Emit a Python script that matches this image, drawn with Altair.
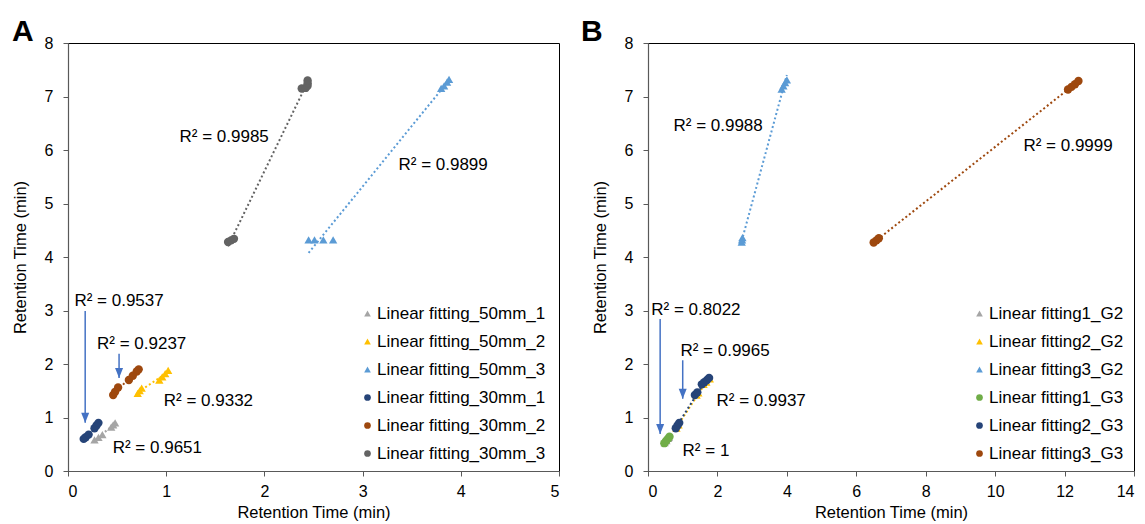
import altair as alt
import pandas as pd

FONT = "Liberation Sans"

# ---------------- Panel A data ----------------
A_SERIES = ["Linear fitting_50mm_1", "Linear fitting_50mm_2", "Linear fitting_50mm_3",
            "Linear fitting_30mm_1", "Linear fitting_30mm_2", "Linear fitting_30mm_3"]
A_COLORS = ["#A5A5A5", "#FFC000", "#5B9BD5", "#264478", "#9E480E", "#636363"]
A_SHAPES = ["triangle-up", "triangle-up", "triangle-up", "circle", "circle", "circle"]

a50_1_x = [0.27, 0.31, 0.35, 0.44, 0.46, 0.48]
a50_1_y = [0.58, 0.63, 0.68, 0.82, 0.86, 0.90]
a50_2_x = [0.71, 0.73, 0.75, 0.93, 0.96, 0.99, 1.02]
a50_2_y = [1.45, 1.50, 1.55, 1.70, 1.76, 1.82, 1.88]
a50_3_x = [2.45, 2.51, 2.60, 2.70, 3.80, 3.83, 3.86, 3.88]
a50_3_y = [4.32, 4.32, 4.32, 4.32, 7.15, 7.20, 7.27, 7.32]
a30_1_x = [0.16, 0.18, 0.21, 0.27, 0.29, 0.31]
a30_1_y = [0.60, 0.63, 0.68, 0.80, 0.85, 0.90]
a30_2_x = [0.46, 0.48, 0.51, 0.62, 0.66, 0.70, 0.72]
a30_2_y = [1.42, 1.48, 1.56, 1.70, 1.78, 1.86, 1.90]
a30_3_x = [1.63, 1.66, 1.69, 2.38, 2.42, 2.44, 2.44, 2.44]
a30_3_y = [4.28, 4.31, 4.34, 7.15, 7.16, 7.20, 7.25, 7.30]

A_LABELS = ["R² = 0.9985", "R² = 0.9899", "R² = 0.9537", "R² = 0.9237", "R² = 0.9332", "R² = 0.9651"]
A_LABEL_X = [1.59, 3.82, 0.52, 0.75, 1.43, 0.91]
A_LABEL_Y = [6.24, 5.72, 3.18, 2.37, 1.31, 0.43]

A_ARROW_X = [0.175, 0.52]
A_ARROW_Y0 = [2.99, 2.19]
A_ARROW_Y1 = [0.90, 1.74]

# ---------------- Panel B data ----------------
B_SERIES = ["Linear fitting1_G2", "Linear fitting2_G2", "Linear fitting3_G2",
            "Linear fitting1_G3", "Linear fitting2_G3", "Linear fitting3_G3"]
B_COLORS = ["#A5A5A5", "#FFC000", "#5B9BD5", "#70AD47", "#264478", "#9E480E"]
B_SHAPES = ["triangle-up", "triangle-up", "triangle-up", "circle", "circle", "circle"]

b1_g2_x = [0.48, 0.53, 0.58, 0.60]
b1_g2_y = [0.53, 0.57, 0.61, 0.63]
b2_g2_x = [0.82, 0.88, 1.40, 1.45, 1.60, 1.68, 1.78]
b2_g2_y = [0.80, 0.86, 1.42, 1.46, 1.62, 1.66, 1.72]
b3_g2_x = [2.70, 2.71, 2.72, 3.85, 3.90, 3.95, 4.00]
b3_g2_y = [4.28, 4.32, 4.36, 7.14, 7.20, 7.26, 7.31]
b1_g3_x = [0.47, 0.52, 0.57, 0.62]
b1_g3_y = [0.52, 0.56, 0.60, 0.64]
b2_g3_x = [0.80, 0.85, 0.90, 1.35, 1.42, 1.55, 1.62, 1.70, 1.76]
b2_g3_y = [0.80, 0.85, 0.90, 1.42, 1.47, 1.62, 1.66, 1.70, 1.74]
b3_g3_x = [6.50, 6.58, 6.65, 12.10, 12.20, 12.30, 12.40]
b3_g3_y = [4.27, 4.31, 4.35, 7.13, 7.18, 7.23, 7.29]

B_LABELS = ["R² = 0.9988", "R² = 0.9999", "R² = 0.8022", "R² = 0.9965", "R² = 0.9937", "R² = 1"]
B_LABEL_X = [2.02, 12.10, 1.38, 2.22, 3.26, 1.67]
B_LABEL_Y = [6.45, 6.07, 3.01, 2.24, 1.31, 0.37]

B_ARROW_X = [0.35, 1.00]
B_ARROW_Y0 = [2.84, 2.07]
B_ARROW_Y1 = [0.69, 1.35]

ARROW_COLOR = "#4472C4"
ARROW_SHAPE = "M0,0L-0.8,-2L0.8,-2Z"


def points_df(series, xs, ys):
    rows = []
    for s, xv, yv in zip(series, xs, ys):
        for a, b in zip(xv, yv):
            rows.append({"series": s, "x": a, "y": b})
    return pd.DataFrame(rows)


def panel(letter, letter_dx, series, colors, shapes, xs, ys, xmax, xstep, plot_w,
          labels, lx, ly, ax, ay0, ay1, legend_x):
    df = points_df(series, xs, ys)
    xscale = alt.Scale(domain=[0, xmax], nice=False)
    yscale = alt.Scale(domain=[0, 8], nice=False)
    xaxis = alt.Axis(values=list(range(0, xmax + 1, xstep)), format="d",
                     title="Retention Time (min)")
    yaxis = alt.Axis(values=list(range(0, 9)), format="d",
                     title="Retention Time (min)")

    # trendline colours: same pairs, listed in reverse so that this (hidden)
    # scale never merges with the point legend
    lines = alt.Chart(df).transform_regression(
        "x", "y", groupby=["series"]
    ).mark_line(strokeDash=[2, 2.5], strokeWidth=2).encode(
        x=alt.X("x:Q", scale=xscale, axis=xaxis),
        y=alt.Y("y:Q", scale=yscale, axis=yaxis),
        stroke=alt.Stroke("series:N",
                          scale=alt.Scale(domain=series[::-1], range=colors[::-1]),
                          legend=None),
        detail="series:N",
    )

    legend = alt.Legend(title=None, orient="none", legendX=legend_x, legendY=262,
                        labelFontSize=17, labelFont=FONT, labelColor="#000000",
                        symbolSize=45, rowPadding=10, labelOffset=1, padding=0,
                        symbolStrokeWidth=0, labelLimit=400)
    pts = alt.Chart(df).mark_point(filled=True, opacity=1, size=70).encode(
        x=alt.X("x:Q", scale=xscale, axis=xaxis),
        y=alt.Y("y:Q", scale=yscale, axis=yaxis),
        color=alt.Color("series:N", scale=alt.Scale(domain=series, range=colors), legend=legend),
        shape=alt.Shape("series:N", scale=alt.Scale(domain=series, range=shapes), legend=legend),
    )

    tdf = pd.DataFrame({"label": labels, "x": lx, "y": ly})
    texts = alt.Chart(tdf).mark_text(fontSize=17, font=FONT, color="#000000",
                                     align="center", baseline="middle").encode(
        x=alt.X("x:Q", scale=xscale), y=alt.Y("y:Q", scale=yscale), text="label:N")

    adf = pd.DataFrame({"x": ax, "y0": ay0, "y1": ay1})
    shafts = alt.Chart(adf).mark_rule(color=ARROW_COLOR, strokeWidth=1.5).encode(
        x=alt.X("x:Q", scale=xscale), y=alt.Y("y0:Q", scale=yscale), y2="y1:Q")
    heads = alt.Chart(adf).mark_point(shape=ARROW_SHAPE, filled=True, opacity=1,
                                      size=100, color=ARROW_COLOR).encode(
        x=alt.X("x:Q", scale=xscale), y=alt.Y("y1:Q", scale=yscale))

    ldf = pd.DataFrame({"t": [letter]})
    letter_mark = alt.Chart(ldf).mark_text(fontSize=30, fontWeight="bold", font=FONT,
                                           color="#000000", align="left",
                                           baseline="alphabetic").encode(
        x=alt.value(letter_dx), y=alt.value(-2), text="t:N")

    return alt.layer(lines, shafts, heads, pts, texts, letter_mark).properties(
        width=plot_w, height=428)


panel_a = panel("A", -56, A_SERIES, A_COLORS, A_SHAPES,
                [a50_1_x, a50_2_x, a50_3_x, a30_1_x, a30_2_x, a30_3_x],
                [a50_1_y, a50_2_y, a50_3_y, a30_1_y, a30_2_y, a30_3_y],
                5, 1, 491, A_LABELS, A_LABEL_X, A_LABEL_Y,
                A_ARROW_X, A_ARROW_Y0, A_ARROW_Y1, 291)
panel_b = panel("B", -67, B_SERIES, B_COLORS, B_SHAPES,
                [b1_g2_x, b2_g2_x, b3_g2_x, b1_g3_x, b2_g3_x, b3_g3_x],
                [b1_g2_y, b2_g2_y, b3_g2_y, b1_g3_y, b2_g3_y, b3_g3_y],
                14, 2, 486, B_LABELS, B_LABEL_X, B_LABEL_Y,
                B_ARROW_X, B_ARROW_Y0, B_ARROW_Y1, 323)

chart = alt.hconcat(panel_a, panel_b, spacing=20).resolve_scale(
    color="independent", shape="independent", stroke="independent"
).properties(
    padding={"left": 3, "top": 8, "right": 0, "bottom": 0}
).configure(font=FONT).configure_axis(
    grid=False, domainColor="#595959", domainWidth=1.2, tickColor="#595959",
    tickSize=5, labelFontSize=16, labelColor="#000000", labelFont=FONT,
    titleFontSize=16.5, titleFontWeight="normal", titleColor="#000000", titleFont=FONT,
).configure_axisX(labelPadding=7, titlePadding=5).configure_axisY(
    labelPadding=10, titlePadding=16
).configure_view(stroke="#000000", strokeWidth=1)

chart.save("out.html", embed_options={"renderer": "svg", "actions": False})
